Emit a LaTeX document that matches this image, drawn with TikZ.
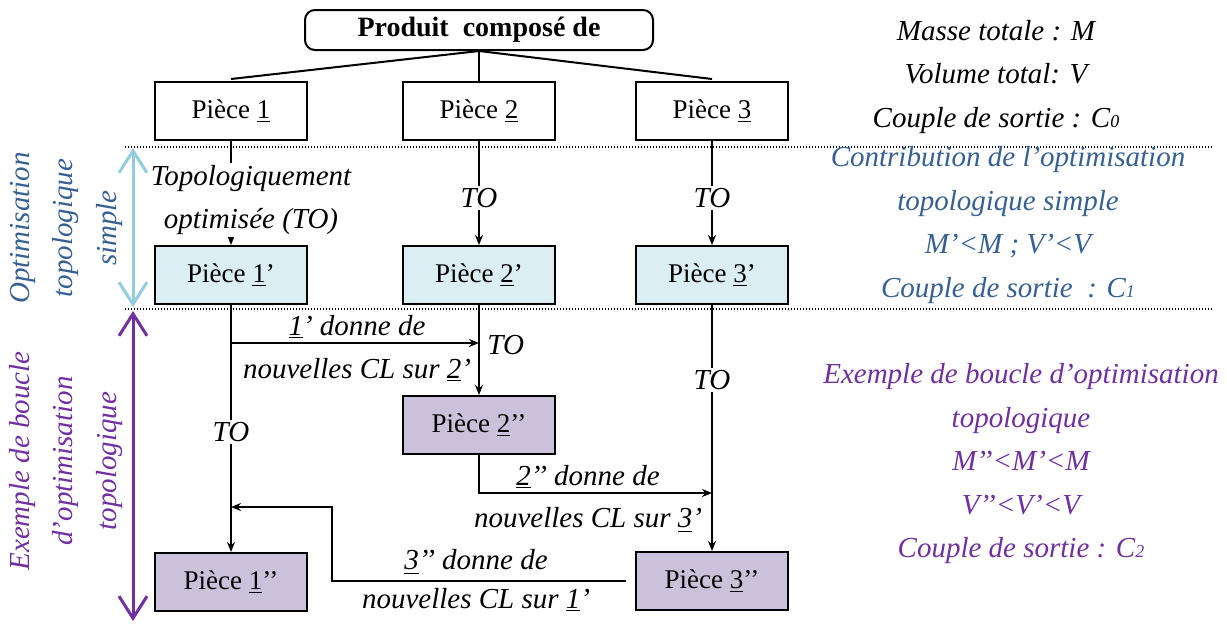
\documentclass[tikz,border=0pt]{standalone}
\usepackage{fontspec}
\setmainfont{Liberation Serif}
\usepackage{tikz}
\usetikzlibrary{arrows.meta,positioning,calc}
\definecolor{bleuclair}{RGB}{218,238,243}
\definecolor{mauveclair}{RGB}{204,193,218}
\definecolor{bleutexte}{RGB}{55,96,146}
\definecolor{violetfonce}{RGB}{112,48,160}
\definecolor{cyanfleche}{RGB}{147,205,221}
\begin{document}
\begin{tikzpicture}[x=0.5pt,y=-0.5pt,
  piece/.style={draw,line width=1pt,minimum width=76pt,minimum height=29pt,inner sep=0pt,font=\fontsize{13.5}{16}\selectfont},
  fleche/.style={-{Stealth[length=5pt,width=4pt]},line width=1pt},
  trait/.style={line width=1pt},
  lbl/.style={font=\fontsize{14.5}{21.75}\selectfont\itshape,align=center,inner sep=1pt},
  fond/.style={fill=white},
  pointille/.style={dash pattern=on 0.7pt off 0.8pt,line width=0.8pt},
  dbl/.style={{Straight Barb[length=11pt,width=14pt]}-{Straight Barb[length=11pt,width=14pt]},line width=1.5pt}]
\useasboundingbox (0,0) rectangle (1227,623);
\node[draw,line width=1pt,rounded corners=5pt,minimum width=174pt,minimum height=20pt,font=\fontsize{14}{16}\selectfont\bfseries] (produit) at (479,30) {Produit\ \ composé de};
\node[piece] (p1) at (231,111) {Pièce \underline{1}};
\node[piece] (p2) at (479,111) {Pièce \underline{2}};
\node[piece] (p3) at (712,111) {Pièce \underline{3}};
\node[piece,fill=bleuclair] (p1p) at (231,275) {Pièce \underline{1}’};
\node[piece,fill=bleuclair] (p2p) at (479,275) {Pièce \underline{2}’};
\node[piece,fill=bleuclair] (p3p) at (712,275) {Pièce \underline{3}’};
\node[piece,fill=mauveclair] (p2pp) at (479,425) {Pièce \underline{2}’’};
\node[piece,fill=mauveclair] (p1pp) at (231,582) {Pièce \underline{1}’’};
\node[piece,fill=mauveclair] (p3pp) at (712,581) {Pièce \underline{3}’’};
\draw[trait] (produit.south) -- ([yshift=1pt]p1.north);
\draw[trait] (produit.south) -- (p2.north);
\draw[trait] (produit.south) -- ([yshift=1pt]p3.north);
\draw[fleche] (p1.south) -- (p1p.north);
\draw[fleche] (p2.south) -- (p2p.north);
\draw[fleche] (p3.south) -- (p3p.north);
\draw[fleche] (p1p.south) -- (p1pp.north);
\draw[fleche] (p2p.south) -- (p2pp.north);
\draw[fleche] (p3p.south) -- (p3pp.north);
\node[lbl,fond] (topo) at (251,200) {Topologiquement\\optimisée (TO)};
\node[lbl,fond] (to2) at (479,198) {TO};
\node[lbl,fond] (to3) at (712,198) {TO};
\node[lbl,fond] (to1b) at (231,432) {TO};
\node[lbl,anchor=west] (to2b) at (485,345) {TO};
\node[lbl,fond] (to3b) at (712,380) {TO};
\coordinate (b1) at (231,343);
\draw[fleche] (b1) -- (b1 -| p2p.south);
\node[lbl] (l1a) at (357,327) {\underline{1}’ donne de};
\node[lbl] (l1b) at (357,370) {nouvelles CL sur \underline{2}’};
\coordinate (b2) at (712,493);
\draw[fleche] (p2pp.south) |- (b2);
\node[lbl] (l2a) at (588,477) {\underline{2}’’ donne de};
\node[lbl] (l2b) at (588,520) {nouvelles CL sur \underline{3}’};
\coordinate (b3) at (332,507);
\draw[fleche] ([xshift=-4.5pt]p3pp.west) -| (b3) -- (b3 -| p1pp.north);
\node[lbl] (l3a) at (476,562) {\underline{3}’’ donne de};
\node[lbl] (l3b) at (476,600) {nouvelles CL sur \underline{1}’};
\draw[pointille] (125,147) -- (1212,147);
\draw[pointille] (125,309) -- (1212,309);
\draw[dbl,cyanfleche] (133,148) -- (133,307);
\draw[dbl,violetfonce] (133,311) -- (133,621);
\node[lbl,bleutexte,rotate=90] (gauche1) at (66,228) {Optimisation\\topologique\\simple};
\node[lbl,violetfonce,rotate=90] (gauche2) at (66,461) {Exemple de boucle\\d’optimisation\\topologique};
\node[lbl] (droite1) at (996,77) {Masse totale : M\\Volume total: V\\Couple de sortie : C{\small 0}};
\node[lbl,bleutexte] (droite2) at (1008,225) {Contribution de l’optimisation\\topologique simple\\M’<M ; V’<V\\Couple de sortie\ \ : C{\small 1}};
\node[lbl,violetfonce] (droite3) at (1021,464) {Exemple de boucle d’optimisation\\topologique\\M’’<M’<M\\V’’<V’<V\\Couple de sortie : C{\small 2}};
\end{tikzpicture}
\end{document}
